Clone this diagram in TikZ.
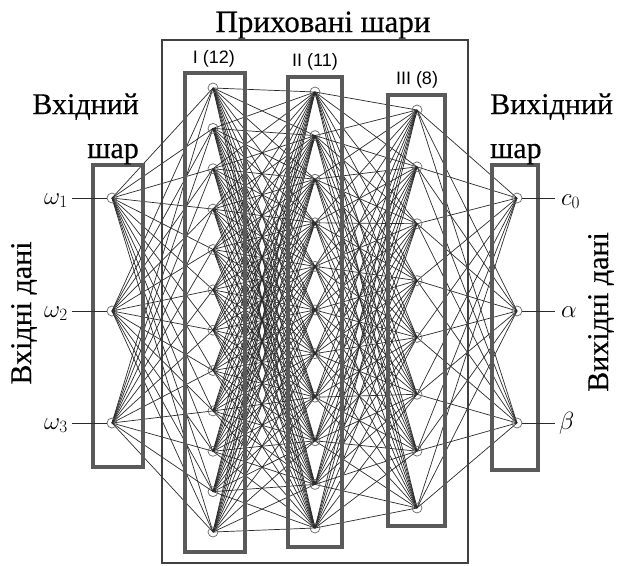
\documentclass[tikz,border=0pt]{standalone}
\usepackage{fontspec}
\setmainfont{Liberation Serif}[FakeBold=0.4]
\newfontfamily\lsans{Liberation Sans}
\definecolor{boxgray}{HTML}{5A5A5A}
\definecolor{edgegray}{HTML}{2A2A2A}
\definecolor{framegray}{HTML}{404040}
\pgfdeclarelayer{edges}
\pgfdeclarelayer{boxes}
\pgfsetlayers{edges,boxes,main}
\begin{document}
\begin{tikzpicture}[x=1pt,y=-1pt,
 nrn/.style={circle,draw=gray!80!black,line width=0.7pt,inner sep=0pt,minimum size=10pt},
 lyr/.style={draw=boxgray,line width=3.8pt},
 frame/.style={draw=framegray,line width=2pt},
 conn/.style={draw=edgegray,line width=0.7pt},
 big/.style={font=\fontsize{30}{32}\selectfont, inner sep=0pt},
 lbl/.style={font=\lsans\fontsize{18}{20}\selectfont, inner sep=0pt},
 sym/.style={font=\fontsize{25}{27}\selectfont, inner sep=0pt},
 ]
\useasboundingbox (0,0) rectangle (621,565);
% neurons
\foreach \i/\y in {1/198,2/311,3/423} \node[nrn] (in\i) at (112,\y) {};
\foreach \i in {1,...,12} \node[nrn] (a\i) at (213,{88+(\i-1)*40.364}) {};
\foreach \i in {1,...,11} \node[nrn] (b\i) at (315,{92+(\i-1)*43.6}) {};
\foreach \i in {1,...,8} \node[nrn] (c\i) at (417,{110+(\i-1)*56.857}) {};
\foreach \i/\y in {1/198,2/311,3/423} \node[nrn] (out\i) at (517,\y) {};
% connections
\begin{pgfonlayer}{edges}
\foreach \i in {1,2,3} \foreach \j in {1,...,12} \draw[conn] (in\i.center) -- (a\j.center);
\foreach \i in {1,...,12} \foreach \j in {1,...,11} \draw[conn] (a\i.center) -- (b\j.center);
\foreach \i in {1,...,11} \foreach \j in {1,...,8} \draw[conn] (b\i.center) -- (c\j.center);
\foreach \i in {1,...,8} \foreach \j in {1,2,3} \draw[conn] (c\i.center) -- (out\j.center);
\end{pgfonlayer}
% boxes
\begin{pgfonlayer}{boxes}
\draw[lyr] (93,165) rectangle (143,467);
\draw[lyr] (185,73) rectangle (245,552);
\draw[lyr] (288,77) rectangle (342,547);
\draw[lyr] (388,95) rectangle (445,526);
\draw[lyr] (492,165) rectangle (538,470);
\draw[frame] (162,40) rectangle (468,563);
\end{pgfonlayer}
% texts
\node[big, anchor=base, font=\fontsize{31}{33}\selectfont] (title) at (323,32) {Приховані шари};
\node[big, anchor=base east] (inl1) at (139,114) {Вхідний};
\node[big, anchor=base east] (inl2) at (139,158) {шар};
\node[big, anchor=base west] (outl1) at (490,114) {Вихідний};
\node[big, anchor=base west] (outl2) at (490,158) {шар};
\node[big, rotate=90] (indata) at (24,313) {Вхідні дані};
\node[big, rotate=90] (outdata) at (601,312) {Вихідні дані};
\node[lbl, anchor=base] (l1) at (214,63) {I (12)};
\node[lbl, anchor=base] (l2) at (315,66) {II (11)};
\node[lbl, anchor=base] (l3) at (417,84) {III (8)};
% input / output terminals
\foreach \i/\y in {1/198,2/311,3/423} {
  \coordinate (we\i) at (72,\y);
  \draw[conn] (we\i) -- (in\i);
  \node[sym, anchor=base west] (w\i) at (44,\y+6) {$\omega_{\i}$};
  \coordinate (oe\i) at (555,\y);
  \draw[conn] (out\i) -- (oe\i);
}
\node[sym, anchor=base west] (o1) at (561,205) {$c_0$};
\node[sym, anchor=base west] (o2) at (561,317) {$\alpha$};
\node[sym, anchor=base west] (o3) at (559,429) {$\beta$};
\end{tikzpicture}
\end{document}
